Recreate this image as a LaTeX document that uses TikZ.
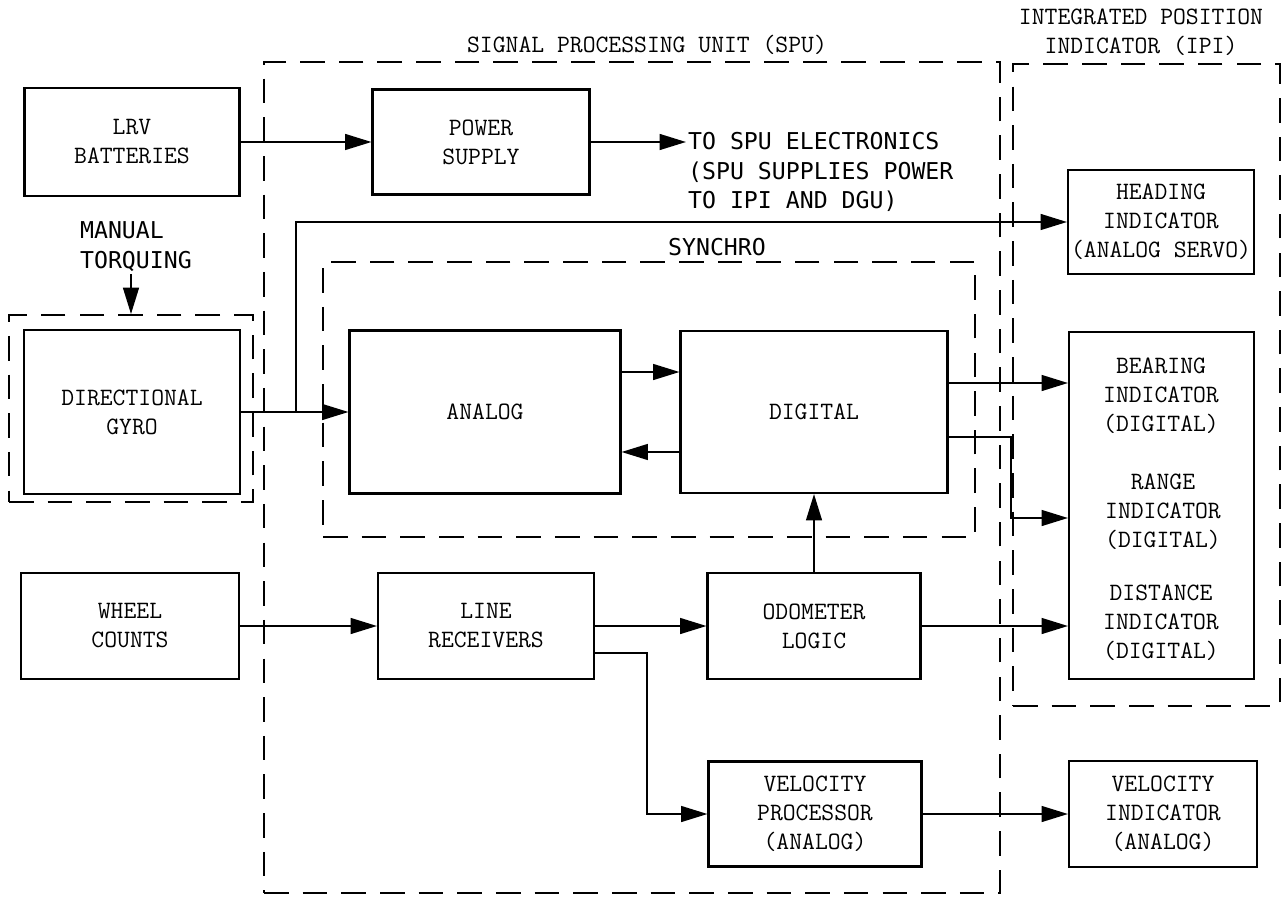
\documentclass[tikz,border=0pt]{standalone}
\usepackage{fontspec}
\newfontfamily\letterfont{DejaVu Sans Mono}
\newcommand{\blkfont}{\ttfamily\fontsize{14.2}{16.5}\selectfont}
\newcommand{\handfont}{\letterfont\fontsize{13.2}{17}\selectfont}
\usetikzlibrary{arrows.meta, positioning}

\begin{document}
\begin{tikzpicture}[x=0.02cm, y=-0.02cm,
    blk/.style={rectangle, draw, line width=1.2pt, inner sep=1pt, align=center, font=\blkfont},
    grp/.style={rectangle, draw, line width=1.1pt, dash pattern=on 14pt off 8pt},
    lbl/.style={inner sep=1pt, align=center, font=\blkfont},
    hand/.style={inner sep=1pt, align=left, font=\handfont},
    arr/.style={-{Triangle[length=15pt, width=9pt]}, line width=1.1pt}]
    \useasboundingbox (0,0) rectangle (1283,898);

    % dashed groupings
    \node[grp, minimum width=14.72cm, minimum height=16.62cm] (spu) at (632,477.5) {};
    \node[grp, minimum width=13.04cm, minimum height=5.5cm] (synchro) at (649,399.5) {};
    \node[grp, minimum width=5.34cm, minimum height=12.84cm] (ipi) at (1146.5,385) {};
    \node[grp, minimum width=4.88cm, minimum height=3.74cm] (gyrohousing) at (131,408.5) {};
    \node[lbl] (spulbl) at (647,45) {SIGNAL PROCESSING UNIT (SPU)};
    \node[lbl] (ipilbl) at (1141,32) {INTEGRATED POSITION\\INDICATOR (IPI)};
    \node[hand] (synlbl) at (717,247) {SYNCHRO};

    % blocks
    \node[blk, minimum width=4.3cm, minimum height=2.16cm] (bat) at (132,142) {LRV\\BATTERIES};
    \node[blk, minimum width=4.34cm, minimum height=2.1cm] (pwr) at (481,142) {POWER\\SUPPLY};
    \node[hand, anchor=west] (spunote) at (686,172) {TO SPU ELECTRONICS\\(SPU SUPPLIES POWER\\TO IPI AND DGU)};
    \node[hand, anchor=west] (torq) at (78,247) {MANUAL\\TORQUING};
    \node[blk, minimum width=4.32cm, minimum height=3.28cm] (gyro) at (132,412) {DIRECTIONAL\\GYRO};
    \node[blk, minimum width=5.42cm, minimum height=3.26cm] (analog) at (485,412) {ANALOG};
    \node[blk, minimum width=5.34cm, minimum height=3.24cm] (digital) at (814,412) {DIGITAL};
    \node[blk, minimum width=3.72cm, minimum height=2.08cm] (heading) at (1161,222) {HEADING\\INDICATOR\\(ANALOG SERVO)};
    \node[blk, minimum width=3.7cm, minimum height=6.94cm] (ipiblock) at (1161.5,505.5) {};
    \node[lbl] (brglbl) at (1161,396) {BEARING\\INDICATOR\\(DIGITAL)};
    \node[lbl] (rnglbl) at (1163,512) {RANGE\\INDICATOR\\(DIGITAL)};
    \node[lbl] (dstlbl) at (1161,623) {DISTANCE\\INDICATOR\\(DIGITAL)};
    \node[blk, minimum width=4.36cm, minimum height=2.12cm] (wheel) at (130,626) {WHEEL\\COUNTS};
    \node[blk, minimum width=4.32cm, minimum height=2.12cm] (lrx) at (486,626) {LINE\\RECEIVERS};
    \node[blk, minimum width=4.26cm, minimum height=2.12cm] (odo) at (814,626) {ODOMETER\\LOGIC};
    \node[blk, minimum width=4.26cm, minimum height=2.1cm] (vproc) at (815,814) {VELOCITY\\PROCESSOR\\(ANALOG)};
    \node[blk, minimum width=3.76cm, minimum height=2.12cm] (vind) at (1163,814) {VELOCITY\\INDICATOR\\(ANALOG)};

    \coordinate (tap) at (296,412);
    \coordinate (brgin) at (ipiblock.west |- 0,383);
    \coordinate (rngin) at (ipiblock.west |- 0,518);
    \coordinate (dstin) at (ipiblock.west |- 0,626);

    % power
    \draw[arr] (bat) -- (pwr);
    \draw[arr] (pwr.east) -- (pwr.east -| spunote.west);
    \draw[arr] (torq.south -| gyrohousing.north) -- (gyrohousing.north);

    % gyro and synchro
    \draw[arr] (gyro) -- (analog);
    \draw[arr] (tap) |- (heading.west);
    \draw[arr] ([yshift=0.8cm]analog.east) -- ([yshift=0.8cm]digital.west);
    \draw[arr] ([yshift=-0.8cm]digital.west) -- ([yshift=-0.8cm]analog.east);
    \draw[arr] (digital.east |- brgin) -- (brgin);
    \draw[arr] ([yshift=-0.5cm]digital.east) -- ++(62,0) |- (rngin);

    % wheel counts
    \draw[arr] (wheel) -- (lrx);
    \draw[arr] (lrx) -- (odo);
    \draw[arr] (odo.north) -- (digital.south);
    \draw[arr] ([yshift=-0.54cm]lrx.east) -- ++(52,0) |- (vproc.west);
    \draw[arr] (odo.east) -- (dstin);
    \draw[arr] (vproc) -- (vind);
\end{tikzpicture}
\end{document}
